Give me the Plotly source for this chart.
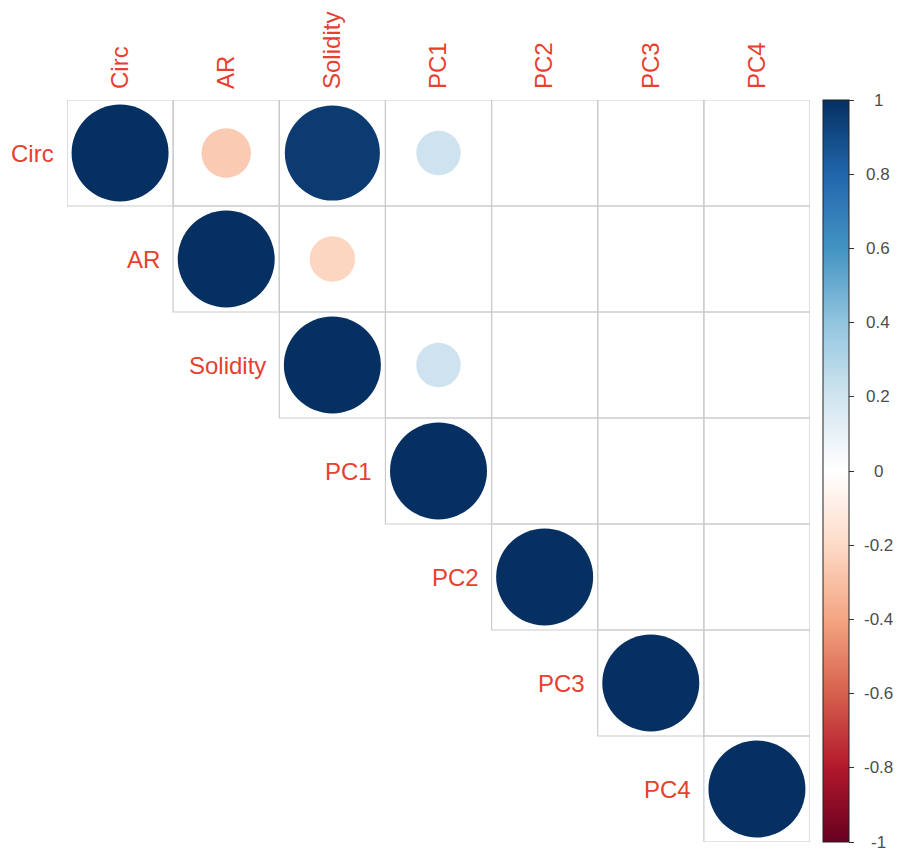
import plotly.graph_objects as go

# Variables (row/column order of the correlation matrix)
variables = ["Circ", "AR", "Solidity", "PC1", "PC2", "PC3", "PC4"]

# Upper-triangle correlations (row i, col j>=i); 0 = not shown
corr = [
    [1.00, -0.26, 0.96, 0.21, 0.00, 0.00, 0.00],
    [None, 1.00, -0.22, 0.00, 0.00, 0.00, 0.00],
    [None, None, 1.00, 0.21, 0.00, 0.00, 0.00],
    [None, None, None, 1.00, 0.00, 0.00, 0.00],
    [None, None, None, None, 1.00, 0.00, 0.00],
    [None, None, None, None, None, 1.00, 0.00],
    [None, None, None, None, None, None, 1.00],
]

cbar_tickvals = [1, 0.8, 0.6, 0.4, 0.2, 0, -0.2, -0.4, -0.6, -0.8, -1]
cbar_ticktext = ["1", "0.8", "0.6", "0.4", "0.2", "0", "-0.2", "-0.4", "-0.6", "-0.8", "-1"]

rdbu = ["#67001F", "#B2182B", "#D6604D", "#F4A582", "#FDDBC7", "#FFFFFF",
        "#D1E5F0", "#92C5DE", "#4393C3", "#2166AC", "#053061"]
colorscale = [[k / 10, c] for k, c in enumerate(rdbu)]

LABEL_RED = "#E8402F"
GRID = "#C9CBCD"
FONT = "Liberation Sans, Arial, Helvetica, sans-serif"
FULL_D = 97  # px diameter of a |r| = 1 circle
CMIN, CMAX = -1, 1

n = len(variables)
xs, ys, vals, sizes = [], [], [], []
for i in range(n):
    for j in range(i, n):
        v = corr[i][j]
        if v is None or v == 0:
            continue
        xs.append(j + 1)
        ys.append(i + 1)
        vals.append(v)
        sizes.append(FULL_D * abs(v) ** 0.5)

fig = go.Figure()

# grid cells (upper triangle incl. diagonal)
shapes = []
for i in range(n):
    for j in range(i, n):
        shapes.append(dict(type="rect", xref="x", yref="y",
                           x0=j + 0.5, x1=j + 1.5, y0=i + 0.5, y1=i + 1.5,
                           line=dict(color=GRID, width=1.2), layer="below"))

fig.add_trace(go.Scatter(
    x=xs, y=ys, mode="markers",
    marker=dict(size=sizes, color=vals, colorscale=colorscale, cmin=CMIN, cmax=CMAX,
                line=dict(width=0), opacity=1,
                colorbar=dict(
                    x=(815 - 59) / 743, xanchor="left", xpad=0,
                    y=0.5, yanchor="middle", ypad=0,
                    lenmode="fraction", len=1.0, thickness=26,
                    outlinecolor="#222222", outlinewidth=1,
                    tickmode="array",
                    tickvals=cbar_tickvals, ticktext=[""] * len(cbar_tickvals),
                    ticks="outside", ticklen=5, tickcolor="#333333",
                    tickfont=dict(family=FONT, size=17, color="#4D4D4D"),
                )),
    hoverinfo="skip", showlegend=False,
))

annotations = []
for i, name in enumerate(variables):
    annotations.append(dict(x=i + 0.5, y=i + 1, xref="x", yref="y", text=name,
                            showarrow=False, xanchor="right", yanchor="middle",
                            xshift=-11, font=dict(family=FONT, size=24, color=LABEL_RED)))

# centred colour-bar labels (like corrplot)
for v, t in zip(cbar_tickvals, cbar_ticktext):
    annotations.append(dict(x=(870 - 59) / 743, y=(v - CMIN) / (CMAX - CMIN),
                            xref="paper", yref="paper", text=t, showarrow=False,
                            xanchor="center", yanchor="middle",
                            font=dict(family=FONT, size=17, color="#4D4D4D")))

fig.update_layout(
    width=893, height=846,
    margin=dict(l=59, r=91, t=92, b=12, autoexpand=False),
    paper_bgcolor="white", plot_bgcolor="white",
    shapes=shapes, annotations=annotations,
    xaxis=dict(range=[0.5, 7.5], side="top", tickmode="array",
               tickvals=list(range(1, n + 1)), ticktext=variables, tickangle=-90,
               tickfont=dict(family=FONT, size=24, color=LABEL_RED),
               showgrid=False, zeroline=False, showline=False, ticks="",
               ticklabelstandoff=10, fixedrange=True),
    yaxis=dict(range=[7.5, 0.5], showgrid=False, zeroline=False, showline=False,
               showticklabels=False, ticks="", fixedrange=True),
)

fig.write_html("out.html")
